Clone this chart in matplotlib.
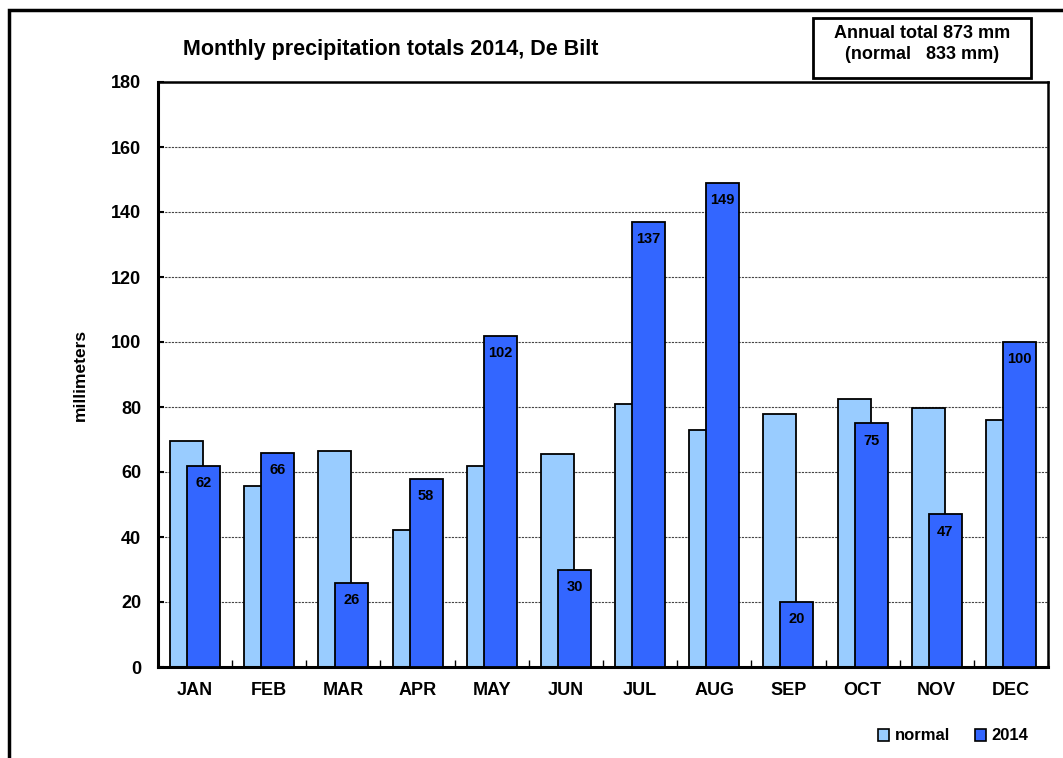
import matplotlib
matplotlib.use("Agg")
import matplotlib.pyplot as plt
from matplotlib.patches import Rectangle, Patch
import numpy as np

months = ["JAN", "FEB", "MAR", "APR", "MAY", "JUN", "JUL", "AUG", "SEP", "OCT", "NOV", "DEC"]
normal = [69.5, 55.7, 66.6, 42.2, 61.7, 65.4, 81.0, 72.8, 78.0, 82.6, 79.8, 75.9]
precip_2014 = [62, 66, 26, 58, 102, 30, 137, 149, 20, 75, 47, 100]
yticks = [0, 20, 40, 60, 80, 100, 120, 140, 160, 180]
title = "Monthly precipitation totals 2014, De Bilt"
annual_text = "Annual total 873 mm\n(normal   833 mm)"

plt.rcParams['font.family'] = ['Liberation Sans', 'DejaVu Sans']
plt.rcParams['font.weight'] = 'bold'

W, H = 1063, 758
fig = plt.figure(figsize=(W / 100, H / 100), dpi=100)
fig.patch.set_facecolor('white')

def fx(px):
    return px / W

def fy(py):
    return 1 - py / H

ax = fig.add_axes([fx(158), fy(667), fx(1048) - fx(158), fy(82) - fy(667)])

x = np.arange(len(months))
bw = 0.445
off = 0.115
c_norm = '#99CCFF'
c_2014 = '#3366FF'

ax.bar(x - off, normal, width=bw, color=c_norm, edgecolor='black', linewidth=1.3, zorder=2)
ax.bar(x + off, precip_2014, width=bw, color=c_2014, edgecolor='black', linewidth=1.3, zorder=3)

for xi, v in zip(x, precip_2014):
    ax.annotate(str(v), xy=(xi + off, v), xytext=(0, -12.5), textcoords='offset points',
                ha='center', va='center', fontsize=10.5, fontweight='bold', color='black', zorder=4)

ax.set_xlim(-0.5, len(months) - 0.5)
ax.set_ylim(0, 180)
ax.set_yticks(yticks)
ax.set_yticklabels([str(t) for t in yticks], fontsize=13, fontweight='bold')
ax.set_xticks(x)
ax.set_xticklabels(months, fontsize=13, fontweight='bold')
ax.tick_params(axis='x', which='major', length=0, pad=11)
ax.set_xticks(np.arange(len(months) + 1) - 0.5, minor=True)
ax.tick_params(axis='x', which='minor', direction='in', length=5, width=1)
ax.tick_params(axis='y', direction='in', length=4, width=1.5, pad=12)

ax.yaxis.grid(True, linestyle=(0, (2, 1)), color='#444444', linewidth=0.8, zorder=0)
ax.set_axisbelow(True)

for s in ax.spines.values():
    s.set_linewidth(1.8)
    s.set_color('black')
ax.spines['bottom'].set_linewidth(2.2)
ax.spines['left'].set_linewidth(2.2)

ax.set_ylabel("millimeters", fontsize=12.5, fontweight='bold')
ax.yaxis.set_label_coords((88 - 158) / (1048 - 158), 0.5)

fig.text(fx(183), fy(50), title, fontsize=15.5, fontweight='bold', ha='left', va='center')

# annual total box
fig.patches.append(Rectangle((fx(813), fy(78)), fx(1031) - fx(813), fy(18) - fy(78),
                             transform=fig.transFigure, fill=False, edgecolor='black', linewidth=2))
fig.text(fx(922), fy(44), annual_text, fontsize=13, fontweight='bold', ha='center', va='center',
         linespacing=1.3)

# outer frame
fig.patches.append(Rectangle((fx(9), -0.2), 1.2, fy(10) + 0.2, transform=fig.transFigure,
                             fill=False, edgecolor='black', linewidth=2.5, clip_on=False))

handles = [Patch(facecolor=c_norm, edgecolor='black', linewidth=1.2),
           Patch(facecolor=c_2014, edgecolor='black', linewidth=1.2)]
fig.legend(handles, ["normal", "2014"], loc='center', bbox_to_anchor=(fx(953), fy(736)), ncol=2,
           frameon=False, handlelength=0.7, handleheight=0.7, handletextpad=0.3,
           columnspacing=1.5, prop={'size': 12, 'weight': 'bold'})

fig.savefig("out.png", dpi=100)
